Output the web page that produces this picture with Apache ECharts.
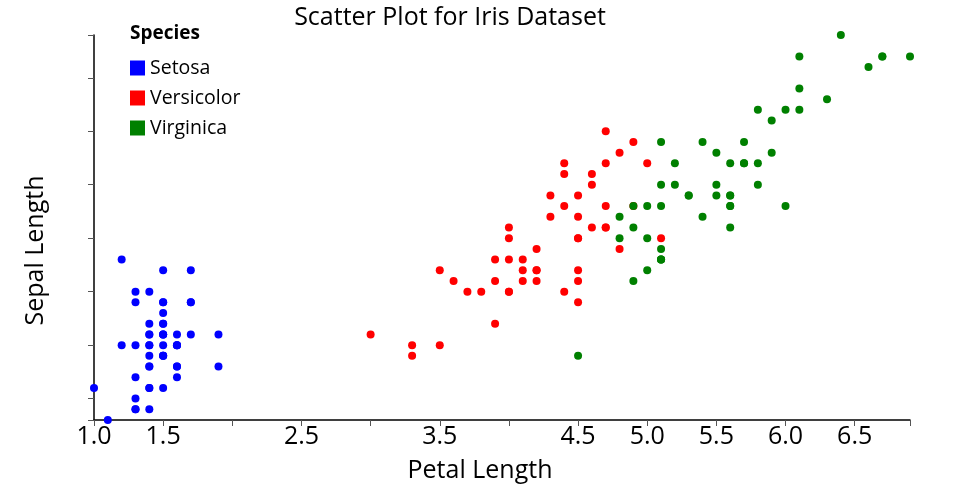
<!DOCTYPE html>
<html>
<head>
<meta charset="utf-8">
<script src="https://cdn.jsdelivr.net/npm/echarts@6/dist/echarts.min.js"></script>
<style>
html,body{margin:0;padding:0;background:#fff;}
#chart{width:960px;height:500px;}
</style>
</head>
<body>
<div id="chart"></div>
<script>
// [petal length, sepal length]
var setosa = [[1.4,5.1],[1.4,4.9],[1.3,4.7],[1.5,4.6],[1.4,5.0],[1.7,5.4],[1.4,4.6],[1.5,5.0],[1.4,4.4],[1.5,4.9],
[1.5,5.4],[1.6,4.8],[1.4,4.8],[1.1,4.3],[1.2,5.8],[1.5,5.7],[1.3,5.4],[1.4,5.1],[1.7,5.7],[1.5,5.1],
[1.7,5.4],[1.5,5.1],[1.0,4.6],[1.7,5.1],[1.9,4.8],[1.6,5.0],[1.6,5.0],[1.5,5.2],[1.4,5.2],[1.6,4.7],
[1.6,4.8],[1.5,5.4],[1.5,5.2],[1.4,5.5],[1.5,4.9],[1.2,5.0],[1.3,5.5],[1.5,4.9],[1.3,4.4],[1.5,5.1],
[1.3,5.0],[1.3,4.5],[1.3,4.4],[1.6,5.0],[1.9,5.1],[1.4,4.8],[1.6,5.1],[1.4,4.6],[1.5,5.3],[1.4,5.0]];
var versicolor = [[4.7,7.0],[4.5,6.4],[4.9,6.9],[4.0,5.5],[4.6,6.5],[4.5,5.7],[4.7,6.3],[3.3,4.9],[4.6,6.6],[3.9,5.2],
[3.5,5.0],[4.2,5.9],[4.0,6.0],[4.7,6.1],[3.6,5.6],[4.4,6.7],[4.5,5.6],[4.1,5.8],[4.5,6.2],[3.9,5.6],
[4.8,5.9],[4.0,6.1],[4.9,6.3],[4.7,6.1],[4.3,6.4],[4.4,6.6],[4.8,6.8],[5.0,6.7],[4.5,6.0],[3.5,5.7],
[3.8,5.5],[3.7,5.5],[3.9,5.8],[5.1,6.0],[4.5,5.4],[4.5,6.0],[4.7,6.7],[4.4,6.3],[4.1,5.6],[4.0,5.5],
[4.4,5.5],[4.6,6.1],[4.0,5.8],[3.3,5.0],[4.2,5.6],[4.2,5.7],[4.2,5.7],[4.3,6.2],[3.0,5.1],[4.1,5.7]];
var virginica = [[6.0,6.3],[5.1,5.8],[5.9,7.1],[5.6,6.3],[5.8,6.5],[6.6,7.6],[4.5,4.9],[6.3,7.3],[5.8,6.7],[6.1,7.2],
[5.1,6.5],[5.3,6.4],[5.5,6.8],[5.0,5.7],[5.1,5.8],[5.3,6.4],[5.5,6.5],[6.7,7.7],[6.9,7.7],[5.0,6.0],
[5.7,6.9],[4.9,5.6],[6.7,7.7],[4.9,6.3],[5.7,6.7],[6.0,7.2],[4.8,6.2],[4.9,6.1],[5.6,6.4],[5.8,7.2],
[6.1,7.4],[6.4,7.9],[5.6,6.4],[5.1,6.3],[5.6,6.1],[6.1,7.7],[5.6,6.3],[5.5,6.4],[4.8,6.0],[5.4,6.9],
[5.6,6.7],[5.1,6.9],[5.1,5.8],[5.9,6.8],[5.7,6.7],[5.2,6.7],[5.0,6.3],[5.2,6.5],[5.4,6.2],[5.1,5.9]];

var xTicks = [1.0,1.5,2.0,2.5,3.0,3.5,4.0,4.5,5.0,5.5,6.0,6.5,6.9];
var xTickLabels = [1.0,1.5,2.5,3.5,4.5,5.0,5.5,6.0,6.5];
var yTicks = [4.3,4.5,5.0,5.5,6.0,6.5,7.0,7.5,7.9];

var FONT = '"Open Sans", "Noto Sans", sans-serif';
var chart = echarts.init(document.getElementById('chart'), null, {renderer:'canvas'});
function ser(name, data, color){
  return {name:name, type:'scatter', data:data, symbol:'circle', symbolSize:8,
    itemStyle:{color:color, opacity:1}, emphasis:{disabled:true}, animation:false};
}
chart.setOption({
  animation:false,
  backgroundColor:'#fff',
  title:[
    {text:'Scatter Plot for Iris Dataset', left:450, top:5, textAlign:'center', padding:0,
     textStyle:{fontFamily:FONT, fontSize:25, fontWeight:'normal', color:'#000'}},
    {text:'Species', left:130, top:24, padding:0,
     textStyle:{fontFamily:FONT, fontSize:19, fontWeight:'bold', color:'#000'}}
  ],
  legend:{
    orient:'vertical', left:130, top:58, padding:0, itemWidth:15, itemHeight:15, itemGap:10, icon:'rect',
    textStyle:{fontFamily:FONT, fontSize:19.5, color:'#000'},
    data:['Setosa','Versicolor','Virginica']
  },
  grid:{left:94, right:50, top:35, bottom:80, containLabel:false},
  xAxis:{
    type:'value', min:1.0, max:6.9,
    name:'Petal Length', nameLocation:'middle', nameGap:38,
    nameTextStyle:{fontFamily:FONT, fontSize:25, color:'#000', padding:[0,44,0,0]},
    axisLine:{show:true, lineStyle:{color:'#000', width:1.5}},
    axisTick:{show:true, length:6, customValues:xTicks, lineStyle:{color:'#555'}},
    axisLabel:{show:true, customValues:xTickLabels, margin:4, fontFamily:FONT, fontSize:25, color:'#000',
      formatter:function(v){return Number(v).toFixed(1);}},
    splitLine:{show:false}
  },
  yAxis:{
    type:'value', min:4.3, max:7.9,
    name:'Sepal Length', nameLocation:'middle', nameGap:46, nameRotate:90,
    nameTextStyle:{fontFamily:FONT, fontSize:25, color:'#000', padding:[0,46,0,0]},
    axisLine:{show:true, lineStyle:{color:'#000', width:1.5}},
    axisTick:{show:true, length:6, customValues:yTicks, lineStyle:{color:'#555'}},
    axisLabel:{show:false},
    splitLine:{show:false}
  },
  series:[ser('Setosa', setosa, '#0000ff'), ser('Versicolor', versicolor, '#ff0000'), ser('Virginica', virginica, '#008000')]
});
</script>
</body>
</html>
